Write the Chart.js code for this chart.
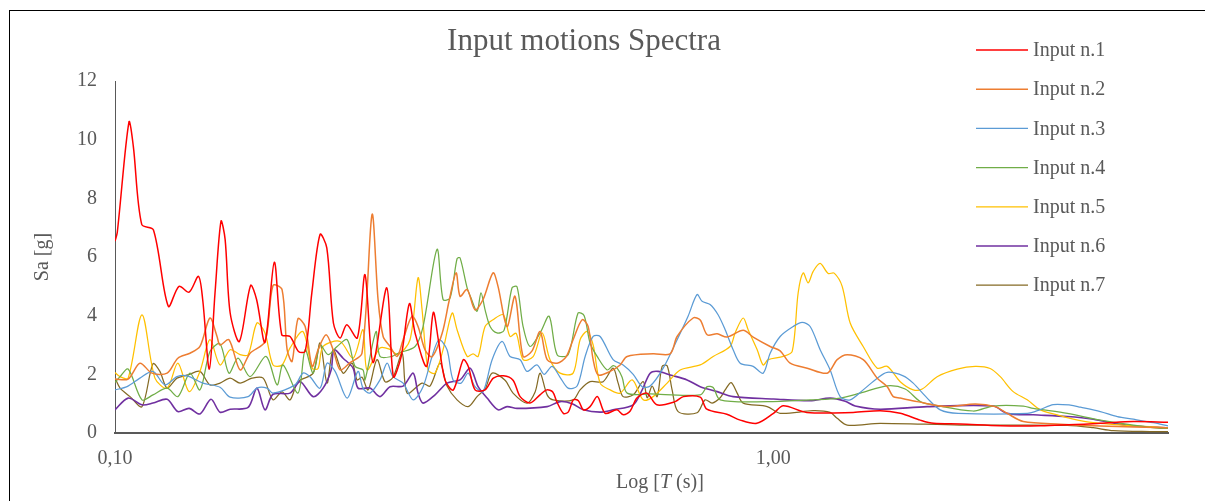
<!DOCTYPE html>
<html>
<head>
<meta charset="utf-8">
<title>Input motions Spectra</title>
<script src="https://cdn.jsdelivr.net/npm/chart.js@4/dist/chart.umd.min.js"></script>
<style>
    html, body { margin: 0; padding: 0; background: #fff; }
    #wrap { width: 1205px; height: 501px; }
</style>
</head>
<body>
<div id="wrap"><canvas id="spectra" width="1205" height="501"></canvas></div>
<script>
'use strict';

/* ---------- data: [period T (s), Sa (g)] ---------- */
const input1 = [[0.100,6.54],[0.1008,6.84],[0.1050,10.6],[0.1066,9.79],[0.1098,7.11],[0.1144,6.92],[0.1205,4.32],[0.1251,5.0],[0.1296,4.8],[0.1339,5.34],[0.1359,4.55],[0.1391,2.18],[0.1419,4.78],[0.1449,7.22],[0.1470,6.6],[0.1496,4.1],[0.1545,3.12],[0.1607,5.03],[0.1641,4.55],[0.1690,3.09],[0.1746,5.82],[0.1792,3.35],[0.1845,3.29],[0.1900,2.78],[0.1945,2.78],[0.1991,4.78],[0.2049,6.77],[0.2098,6.31],[0.2147,3.75],[0.2198,3.24],[0.2250,3.69],[0.2334,3.24],[0.2398,5.4],[0.2466,2.4],[0.2588,4.95],[0.2648,1.92],[0.2721,2.6],[0.2801,4.41],[0.2857,3.41],[0.2975,2.27],[0.3045,4.11],[0.3099,3.18],[0.3172,1.81],[0.3266,1.47],[0.3382,2.5],[0.3442,2.27],[0.3524,1.47],[0.3650,1.47],[0.3757,1.87],[0.3891,1.95],[0.4025,1.8],[0.4126,1.24],[0.4271,1.02],[0.4423,1.3],[0.4529,1.47],[0.4625,1.4],[0.4690,1.07],[0.4800,0.67],[0.4885,0.72],[0.4971,1.13],[0.5059,1.1],[0.5148,0.79],[0.5270,0.9],[0.5408,1.24],[0.5555,0.67],[0.5788,0.79],[0.5923,0.62],[0.6064,0.75],[0.6208,1.19],[0.6427,1.36],[0.6657,0.96],[0.7097,1.07],[0.7306,1.24],[0.7747,1.22],[0.7930,0.81],[0.8503,0.64],[0.8910,0.44],[0.9445,0.33],[1.001,0.67],[1.036,0.93],[1.125,0.7],[1.323,0.7],[1.454,0.76],[1.560,0.67],[1.673,0.44],[1.752,0.33],[1.924,0.31],[2.213,0.25],[2.546,0.25],[3.141,0.33],[3.526,0.39],[3.98,0.37]];

const input2 = [[0.100,1.84],[0.1047,1.84],[0.1091,2.38],[0.1138,2.04],[0.1200,2.04],[0.1246,2.55],[0.1300,2.72],[0.1346,2.95],[0.1394,3.92],[0.1429,3.29],[0.1444,3.0],[0.1490,3.18],[0.1549,2.15],[0.1604,2.72],[0.1690,3.12],[0.1738,5.03],[0.1794,4.89],[0.1826,2.84],[0.1858,2.44],[0.1897,3.9],[0.1945,3.63],[0.1993,2.27],[0.2035,2.84],[0.2093,3.35],[0.2145,2.84],[0.2198,2.15],[0.2276,2.4],[0.2373,2.72],[0.2458,7.45],[0.2510,4.55],[0.2555,3.29],[0.2618,2.95],[0.2683,2.61],[0.2740,3.18],[0.2827,3.98],[0.2887,3.63],[0.2958,2.84],[0.3032,2.6],[0.3141,3.4],[0.3218,4.5],[0.3298,5.46],[0.3344,4.66],[0.3428,4.89],[0.3524,4.2],[0.3624,4.55],[0.3753,5.46],[0.3819,5.0],[0.3941,3.63],[0.4053,4.66],[0.4169,2.61],[0.4302,2.8],[0.4425,3.46],[0.4535,2.5],[0.4696,2.38],[0.4847,2.6],[0.4966,3.18],[0.5126,3.86],[0.5234,3.63],[0.5327,2.5],[0.5420,1.98],[0.5653,2.1],[0.5854,2.32],[0.6000,2.61],[0.6571,2.7],[0.6974,2.7],[0.7146,3.29],[0.7558,3.92],[0.7747,3.85],[0.7938,3.35],[0.8221,3.38],[0.8513,3.27],[0.9004,3.5],[0.9324,3.27],[0.9895,2.95],[1.0247,2.8],[1.0612,2.38],[1.1264,2.21],[1.2080,2.04],[1.2510,2.5],[1.2955,2.67],[1.3701,2.5],[1.4392,1.87],[1.4905,1.58],[1.5221,1.24],[1.5596,1.19],[1.6549,1.07],[1.8384,0.9],[2.0277,0.99],[2.1744,0.9],[2.2675,0.67],[2.3988,0.39],[2.7305,0.3],[3.1405,0.24],[3.98,0.18]];

const input3 = [[0.100,1.47],[0.1043,1.58],[0.1091,1.87],[0.1142,2.1],[0.1191,1.64],[0.1242,1.92],[0.1287,1.95],[0.1360,1.7],[0.1444,1.56],[0.1496,1.22],[0.1593,1.24],[0.1643,1.53],[0.1702,1.53],[0.1738,1.36],[0.1877,1.64],[0.1930,2.04],[0.1978,1.92],[0.2049,1.53],[0.2100,2.38],[0.2160,2.1],[0.2253,1.19],[0.2340,2.1],[0.2381,1.53],[0.2440,1.36],[0.2527,1.81],[0.2591,2.38],[0.2645,1.92],[0.2740,1.7],[0.2838,1.13],[0.2938,1.58],[0.3032,2.61],[0.3107,3.18],[0.3195,2.84],[0.3263,1.81],[0.3356,1.7],[0.3440,2.04],[0.3524,1.58],[0.3624,1.41],[0.3741,2.5],[0.3873,3.12],[0.3983,2.61],[0.4126,2.5],[0.4227,2.1],[0.4376,2.32],[0.4487,2.0],[0.4614,2.27],[0.4745,1.9],[0.4880,1.53],[0.5036,1.6],[0.5180,2.61],[0.5327,3.29],[0.5459,3.29],[0.5712,2.5],[0.5916,2.32],[0.6128,2.0],[0.6324,1.58],[0.6503,1.6],[0.6806,2.21],[0.7146,3.18],[0.7425,3.98],[0.7663,4.72],[0.7798,4.49],[0.8020,4.38],[0.8247,4.03],[0.8454,3.52],[0.8693,2.84],[0.8910,2.38],[0.9324,2.27],[0.9656,2.04],[0.9895,2.72],[1.0247,3.29],[1.0724,3.63],[1.1068,3.77],[1.1381,3.63],[1.1786,2.84],[1.2206,2.15],[1.2642,1.24],[1.3092,1.13],[1.3701,1.47],[1.4392,1.87],[1.4905,2.07],[1.5760,1.95],[1.6322,1.7],[1.7140,1.19],[1.7939,0.79],[1.9107,0.67],[2.4322,0.67],[2.5458,0.8],[2.6639,0.97],[2.8284,0.95],[2.9293,0.88],[3.1405,0.73],[3.3335,0.56],[3.5249,0.47],[3.7800,0.35],[3.98,0.24]];

const input4 = [[0.100,1.72],[0.1018,1.92],[0.1047,2.18],[0.1099,1.13],[0.1142,1.3],[0.1200,1.53],[0.1246,1.24],[0.1300,2.04],[0.1346,1.47],[0.1394,2.78],[0.1444,3.04],[0.1490,2.04],[0.1538,2.55],[0.1604,1.92],[0.1696,2.61],[0.1763,1.64],[0.1800,2.32],[0.1897,1.36],[0.1945,2.84],[0.2000,2.04],[0.2049,3.0],[0.2108,2.67],[0.2175,2.95],[0.2253,3.18],[0.2316,2.27],[0.2381,2.15],[0.2398,1.81],[0.2492,3.46],[0.2527,2.61],[0.2636,2.61],[0.2693,2.72],[0.2857,2.95],[0.2938,3.63],[0.3085,6.26],[0.3151,4.55],[0.3229,4.6],[0.3309,5.94],[0.3344,5.97],[0.3428,4.95],[0.3475,4.6],[0.3549,4.15],[0.3598,4.78],[0.3650,4.2],[0.3715,3.63],[0.3805,3.41],[0.3900,3.5],[0.4011,4.95],[0.4082,4.98],[0.4169,3.63],[0.4271,2.95],[0.4425,3.41],[0.4567,3.98],[0.4696,2.67],[0.4880,2.67],[0.5053,4.09],[0.5162,4.0],[0.5270,3.07],[0.5402,2.61],[0.5594,2.15],[0.5712,2.3],[0.5793,2.21],[0.5895,1.9],[0.6000,1.36],[0.6503,1.33],[0.7747,1.3],[0.7938,1.58],[0.8106,1.55],[0.8308,1.13],[0.9792,1.07],[1.1381,1.13],[1.2642,1.19],[1.3557,1.36],[1.4905,1.61],[1.5869,1.5],[1.6729,1.07],[1.7508,0.96],[2.0133,0.75],[2.1590,0.92],[2.3988,0.92],[2.4840,0.84],[2.7987,0.67],[3.1405,0.44],[3.5249,0.27],[3.873,0.16],[3.98,0.16]];

const input5 = [[0.100,2.06],[0.1018,1.92],[0.1047,1.87],[0.1099,4.03],[0.1150,1.87],[0.1200,1.53],[0.1246,2.38],[0.1296,1.41],[0.1346,2.1],[0.1394,3.18],[0.1444,2.32],[0.1496,2.84],[0.1549,2.67],[0.1593,2.67],[0.1643,3.75],[0.1690,3.41],[0.1738,2.32],[0.1794,2.32],[0.1845,2.9],[0.1930,3.46],[0.1993,2.21],[0.2035,2.2],[0.2071,2.95],[0.2198,3.12],[0.2300,2.55],[0.2381,3.52],[0.2415,2.15],[0.2527,2.9],[0.2618,2.85],[0.2693,2.67],[0.2807,3.18],[0.2887,5.29],[0.2928,4.2],[0.2990,2.15],[0.3064,2.04],[0.3151,2.84],[0.3252,4.09],[0.3309,3.52],[0.3428,2.61],[0.3500,2.7],[0.3562,2.61],[0.3650,3.63],[0.3753,3.86],[0.3889,4.03],[0.3983,3.29],[0.4069,3.4],[0.4169,2.5],[0.4318,2.6],[0.4456,3.41],[0.4581,2.5],[0.4745,2.04],[0.4966,2.04],[0.5089,3.18],[0.5215,3.46],[0.5327,3.0],[0.5459,1.7],[0.5653,1.47],[0.5854,1.36],[0.6107,1.81],[0.6346,1.13],[0.6571,1.24],[0.6901,1.7],[0.7222,2.15],[0.7747,2.32],[0.8106,2.61],[0.8600,2.95],[0.8753,3.41],[0.9004,3.92],[0.9162,3.52],[0.9456,2.84],[0.9656,2.32],[0.9826,2.5],[1.0356,2.61],[1.0688,2.78],[1.0914,4.78],[1.1106,5.46],[1.1303,5.12],[1.1502,5.51],[1.1786,5.78],[1.2122,5.44],[1.2380,5.45],[1.2730,5.0],[1.3092,3.75],[1.3701,2.95],[1.4392,2.21],[1.4905,2.27],[1.5596,1.75],[1.6322,1.47],[1.6845,1.5],[1.7747,1.92],[1.9037,2.18],[2.0277,2.27],[2.1365,2.2],[2.213,1.92],[2.3155,1.41],[2.4322,1.13],[2.5458,0.79],[2.7018,0.62],[2.8575,0.47],[3.0640,0.35],[3.5249,0.24],[3.98,0.18]];

const input6 = [[0.100,0.79],[0.1047,1.19],[0.1099,0.96],[0.1142,1.02],[0.1200,1.15],[0.1246,0.73],[0.1296,0.84],[0.1346,0.65],[0.1399,1.15],[0.1444,0.71],[0.1496,0.81],[0.1593,0.87],[0.1643,1.53],[0.1690,0.79],[0.1738,1.32],[0.1845,1.36],[0.1911,1.75],[0.2000,1.24],[0.2071,1.53],[0.2130,2.15],[0.2152,2.84],[0.2221,2.55],[0.2300,2.21],[0.2340,1.53],[0.2440,1.53],[0.2527,1.24],[0.2618,1.58],[0.2740,1.6],[0.2838,2.04],[0.2887,1.36],[0.2938,1.02],[0.3064,1.3],[0.3195,1.7],[0.3344,1.81],[0.3464,2.21],[0.3562,1.58],[0.3676,1.19],[0.3820,0.79],[0.3941,0.9],[0.4082,0.84],[0.4535,0.9],[0.4745,1.07],[0.4949,1.0],[0.5148,0.79],[0.5459,0.71],[0.5712,0.79],[0.6128,0.96],[0.6324,1.47],[0.6503,2.04],[0.6687,2.1],[0.6974,1.98],[0.7399,1.81],[0.7747,1.58],[0.8221,1.41],[0.8693,1.24],[1.001,1.16],[1.1381,1.1],[1.2206,1.19],[1.2867,1.08],[1.3322,0.92],[1.454,0.81],[1.714,0.9],[2.159,0.92],[2.2675,0.67],[2.484,0.62],[2.7987,0.56],[3.064,0.47],[3.3335,0.31],[3.5249,0.24],[3.98,0.18]];

const input7 = [[0.100,1.87],[0.1018,1.53],[0.1054,1.24],[0.1099,0.9],[0.1142,2.36],[0.1170,2.1],[0.1200,1.53],[0.1242,1.87],[0.1291,1.98],[0.1346,2.1],[0.1394,1.64],[0.1444,1.7],[0.1496,1.87],[0.1549,1.7],[0.1615,1.87],[0.1679,1.87],[0.1738,1.13],[0.1794,1.4],[0.1845,1.13],[0.1897,1.75],[0.2000,2.04],[0.2049,3.07],[0.2100,1.7],[0.2145,2.84],[0.2221,2.04],[0.2292,2.38],[0.2332,1.81],[0.2373,1.9],[0.2424,1.47],[0.2501,2.5],[0.2572,1.75],[0.2645,1.9],[0.2731,2.72],[0.2779,1.36],[0.2928,1.7],[0.3010,1.6],[0.3118,2.38],[0.3195,1.6],[0.3309,1.13],[0.3440,0.9],[0.3549,1.24],[0.3650,1.5],[0.3741,2.04],[0.3914,1.8],[0.4025,1.36],[0.4227,1.02],[0.4348,1.4],[0.4425,2.04],[0.4535,1.3],[0.4630,1.13],[0.4966,1.13],[0.5089,1.47],[0.5270,1.75],[0.5516,1.75],[0.5712,2.21],[0.5814,1.7],[0.5916,1.24],[0.6128,1.3],[0.6346,1.75],[0.6435,1.2],[0.6548,1.6],[0.6664,1.24],[0.6781,2.27],[0.6901,2.29],[0.7022,1.47],[0.7171,0.73],[0.7663,0.69],[0.7880,1.13],[0.8078,1.02],[0.8308,1.2],[0.8454,1.47],[0.8633,1.72],[0.8816,1.36],[0.9004,1.02],[0.9792,0.9],[1.0247,0.67],[1.1502,0.76],[1.2206,0.7],[1.2510,0.5],[1.2955,0.27],[1.454,0.33],[1.924,0.27],[2.7987,0.26],[3.064,0.18],[3.287,0.08],[3.741,0.05],[3.98,0.05]];

const seriesLabels = ['Input n.1', 'Input n.2', 'Input n.3', 'Input n.4', 'Input n.5', 'Input n.6', 'Input n.7'];
const seriesData   = [input1, input2, input3, input4, input5, input6, input7];
const xTicks = [0.1, 1];
const yTicks = [0, 2, 4, 6, 8, 10, 12];

/* ---------- styling ---------- */
const colors  = ['#FF0000', '#ED7D31', '#5B9BD5', '#70AD47', '#FFC000', '#7030A0', '#846A24'];
const widths  = [1.5, 1.5, 1.25, 1.25, 1.25, 1.6, 1.25];
const FONT    = "'Liberation Serif', 'Times New Roman', serif";
const GREY    = '#595959';

// white page + thin frame around the whole chart
const framePlugin = {
    id: 'frame',
    beforeDraw: (chart) => {
        const { ctx, width, height } = chart;
        ctx.save();
        ctx.fillStyle = '#fff';
        ctx.fillRect(0, 0, width, height);
        ctx.strokeStyle = '#000';
        ctx.lineWidth = 1;
        ctx.strokeRect(9.5, 10.5, width + 20, height + 20);
        ctx.restore();
    }
};

// legend stacked on the right, over the plot area
const sideLegend = {
    id: 'sideLegend',
    afterDraw: (chart) => {
        const { ctx } = chart;
        ctx.save();
        ctx.font = `20px ${FONT}`;
        ctx.textBaseline = 'middle';
        chart.data.datasets.forEach((ds, i) => {
            const y = 50 + i * 39.2;
            ctx.strokeStyle = ds.borderColor;
            ctx.lineWidth = ds.borderWidth;
            ctx.beginPath();
            ctx.moveTo(976, y);
            ctx.lineTo(1028, y);
            ctx.stroke();
            ctx.fillStyle = GREY;
            ctx.fillText(ds.label, 1033, y + 1);
        });
        ctx.restore();
    }
};

// x axis title with italic T
const xTitle = {
    id: 'xTitle',
    afterDraw: (chart) => {
        const { ctx } = chart;
        const parts = [['Log [', 'normal'], ['T', 'italic'], [' (s)]', 'normal']];
        ctx.save();
        ctx.fillStyle = GREY;
        ctx.textBaseline = 'middle';
        const w = parts.map(([t, s]) => { ctx.font = `${s} 20px ${FONT}`; return ctx.measureText(t).width; });
        let x = 660 - w.reduce((a, b) => a + b, 0) / 2;
        parts.forEach(([t, s], i) => {
            ctx.font = `${s} 20px ${FONT}`;
            ctx.fillText(t, x, 483);
            x += w[i];
        });
        ctx.restore();
    }
};

new Chart(document.getElementById('spectra'), {
    type: 'line',
    data: {
        datasets: seriesData.map((pts, i) => ({
            label: seriesLabels[i],
            data: pts.map(([t, sa]) => ({ x: t, y: sa })),
            borderColor: colors[i],
            backgroundColor: colors[i],
            borderWidth: widths[i],
            pointRadius: 0,
            tension: 0.3,
            fill: false,
        }))
    },
    options: {
        responsive: false,
        animation: false,
        devicePixelRatio: 1,
        layout: { padding: { left: 0, right: 37, top: 0, bottom: 0 } },
        plugins: {
            legend: { display: false },
            tooltip: { enabled: false },
            title: {
                display: true,
                text: 'Input motions Spectra',
                color: GREY,
                font: { family: FONT, size: 31, weight: 'normal' },
                padding: { top: 23, bottom: 20.8 },
            }
        },
        scales: {
            x: {
                type: 'logarithmic',
                min: 0.1, max: 3.98,
                afterBuildTicks: (s) => { s.ticks = xTicks.map(v => ({ value: v })); },
                afterFit: (s) => { s.height = 68; },
                grid: { display: false, drawTicks: false },
                border: { display: true, color: GREY, width: 2 },
                ticks: {
                    autoSkip: false, maxRotation: 0, padding: 14,
                    color: GREY, font: { family: FONT, size: 20 },
                    callback: (v) => v.toFixed(2).replace('.', ','),
                },
            },
            y: {
                min: 0, max: 12,
                afterBuildTicks: (s) => { s.ticks = yTicks.map(v => ({ value: v })); },
                afterFit: (s) => { s.width = 115; },
                grid: { display: false, drawTicks: false },
                border: { display: true, color: GREY, width: 1 },
                ticks: { padding: 18, color: GREY, font: { family: FONT, size: 20 } },
                title: {
                    display: true, text: 'Sa [g]', color: GREY,
                    font: { family: FONT, size: 20 },
                    padding: { top: 31, bottom: 0 },
                },
            }
        }
    },
    plugins: [framePlugin, sideLegend, xTitle]
});
</script>
</body>
</html>
